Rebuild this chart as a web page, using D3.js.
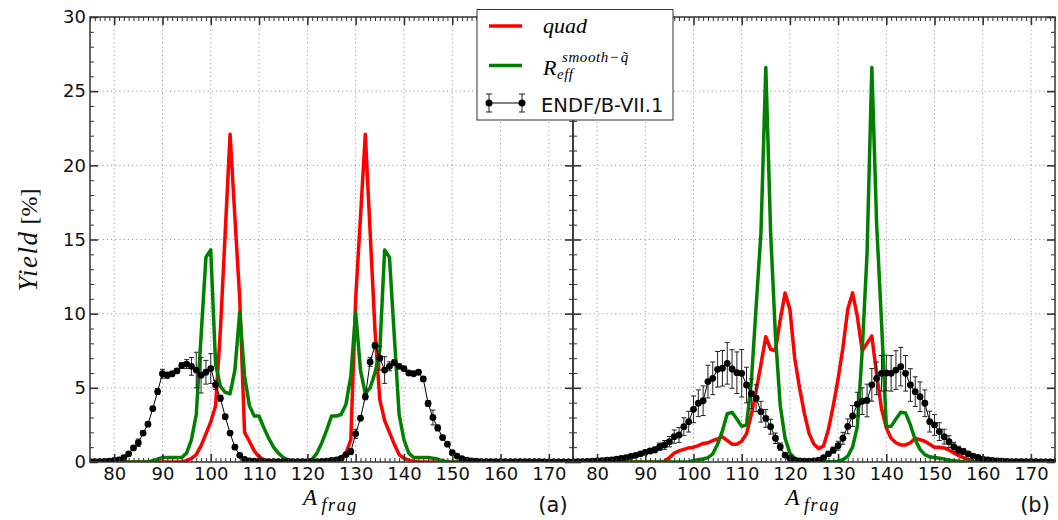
<!DOCTYPE html>
<html><head><meta charset="utf-8">
<script src="https://cdnjs.cloudflare.com/ajax/libs/d3/7.8.5/d3.min.js"></script>
<style>body{margin:0;background:#fff}svg{display:block}</style>
</head><body>
<svg id="c" width="1058" height="520"></svg>
<script>
// ---------------- data ----------------
const massNumbers = [75,76,77,78,79,80,81,82,83,84,85,86,87,88,89,90,91,92,93,94,95,96,97,98,99,
 100,101,102,103,104,105,106,107,108,109,110,111,112,113,114,115,116,117,118,119,120,121,122,123,124,
 125,126,127,128,129,130,131,132,133,134,135,136,137,138,139,140,141,142,143,144,145,146,147,148,149,
 150,151,152,153,154,155,156,157,158,159,160,161,162,163,164,165,166,167,168,169,170,171,172,173,174,175];

// panel (a)
const quadA = [0,0,0,0,0,0,0,0,0,0,0,0,0,0,0,0,0,0,0,
 0.02,0.08,0.25,0.5,1.1,1.9,2.7,3.8,8.9,15.5,22.1,16.5,11.0,2.0,1.4,0.75,0.35,0.15,0.07,0.03,
 0.02,0.02,0.02,0.02,0.02,0.02,0.02,0.02,0.02,0.03,0.06,0.1,0.2,0.3,0.6,1.5,11.0,16.5,22.1,15.5,
 8.9,4.2,2.8,2.0,1.2,0.5,0.25,0.12,0.05,0.02,
 0,0,0,0,0,0,0,0,0,0,0,0,0,0,0,0,0,0,0,0,0,0,0,0,0,0,0,0,0,0,0,0];
const effA = [0,0,0,0,0,0,0,0,0,0,0,0,
 0.02,0.08,0.2,0.3,0.3,0.3,0.3,0.3,0.6,1.5,3.2,8.5,13.8,14.3,6.6,5.1,4.7,4.6,6.2,10.1,5.8,3.8,3.1,
 3.1,2.3,1.6,1.0,0.6,0.3,0.15,0.08,0.05,0.05,0.08,0.2,0.6,1.3,2.15,3.1,3.1,3.2,3.9,5.8,10.1,6.2,4.6,
 5.0,6.0,7.5,14.3,13.8,8.5,3.2,1.5,0.6,0.3,0.3,0.3,0.3,0.25,0.2,0.08,0.02,
 0,0,0,0,0,0,0,0,0,0,0,0,0,0,0,0,0,0,0,0,0,0,0,0,0,0];
const endfA = [0.02,0.02,0.03,0.04,0.06,0.1,0.15,0.3,0.55,0.95,1.3,1.95,2.55,3.6,4.75,5.95,5.85,5.95,6.15,6.5,
 6.6,6.45,6.2,5.85,6.05,6.3,5.2,4.3,3.05,1.95,1.0,0.45,0.18,0.08,0.05,0.04,0.03,0.03,0.03,0.03,
 0.03,0.03,0.03,0.03,0.03,0.03,0.03,0.03,0.04,0.06,0.1,0.15,0.25,0.5,0.7,1.9,2.95,4.4,6.75,7.85,
 7.0,6.2,6.45,6.7,6.45,6.3,6.0,5.95,6.05,5.6,3.95,3.0,2.3,1.65,1.2,0.63,0.4,0.22,0.12,0.07,
 0.05,0.03,0.03,0.03,0.03,0.02,0.02,0.02,0.02,0.02,0.02,0.02,0.02,0.02,0.01,0.01,0.01,0.01,0.01,0.01,0.01];
const errA = [0.01,0.01,0.01,0.01,0.01,0.02,0.02,0.05,0.08,0.12,0.25,0.15,0.15,0.15,0.2,0.3,0.2,0.15,0.15,0.2,
 0.3,0.6,1.2,1.2,0.8,1.0,0.3,0.2,0.15,0.1,0.05,0.03,0.02,0.01,0.01,0.01,0.01,0.01,0.01,0.01,
 0.01,0.01,0.01,0.01,0.01,0.01,0.01,0.01,0.01,0.01,0.01,0.01,0.02,0.05,0.2,0.3,0.15,0.2,0.3,0.2,
 0.8,0.9,0.3,0.2,0.15,0.15,0.15,0.1,0.1,0.15,0.2,0.5,0.2,0.15,0.15,0.1,0.05,0.03,0.01,0.01,
 0.01,0.01,0.01,0.01,0.01,0.01,0.01,0.01,0.01,0.01,0.01,0.01,0.01,0.01,0.01,0.01,0.01,0.01,0.01,0.01,0.01];

// panel (b)
const quadB = [0,0,0,0,0,0,0,0,0,0,0,0,0,0,0,0,0,0,0,
 0.05,0.3,0.6,0.75,0.85,0.95,1.0,1.1,1.25,1.3,1.45,1.55,1.7,1.45,1.2,1.2,1.4,1.9,3.2,4.8,6.6,
 8.45,7.6,7.5,9.6,11.4,10.3,7.0,5.0,3.3,1.9,1.2,0.9,1.1,2.2,3.8,5.6,7.7,10.3,11.4,9.8,
 7.5,8.0,8.5,5.9,3.6,2.3,1.6,1.3,1.15,1.15,1.3,1.6,1.5,1.4,1.2,1.0,1.0,0.95,0.8,0.6,
 0.45,0.3,0.15,0.05,
 0,0,0,0,0,0,0,0,0,0,0,0,0,0,0,0,0];
const effB = [0,0,0,0,0,0,0,0,0,0,0,0,0,0,0,0,0,0,0,0,0,0,0,0,0,
 0.1,0.15,0.2,0.3,0.55,1.2,2.1,3.25,3.35,2.9,2.4,2.5,5.4,10.5,15.5,26.6,15.5,8.5,3.8,1.6,
 0.6,0.25,0.1,0.05,0.02,0.02,0.02,0.02,0.02,0.03,0.05,0.15,0.4,1.0,2.4,7.5,14.0,26.6,16.0,9.5,
 2.4,2.4,2.9,3.35,3.3,2.5,1.5,0.85,0.5,0.35,0.3,0.25,0.2,0.12,0.08,0.05,
 0,0,0,0,0,0,0,0,0,0,0,0,0,0,0,0,0,0,0,0];
const endfB = [0.02,0.02,0.03,0.04,0.05,0.07,0.09,0.12,0.15,0.2,0.25,0.3,0.37,0.45,0.55,0.65,0.74,0.82,1.03,1.15,
 1.37,1.71,1.82,2.38,2.72,3.55,3.96,4.13,5.42,5.64,6.25,6.32,6.65,6.27,6.02,5.98,5.19,4.6,4.3,3.39,
 2.94,2.38,1.6,1.03,0.47,0.25,0.12,0.08,0.06,0.06,0.08,0.12,0.3,0.55,0.8,1.1,1.6,2.4,3.1,3.9,
 4.1,4.15,5.2,5.64,5.98,6.0,5.98,6.2,6.43,5.98,5.19,4.74,4.4,3.96,2.72,2.5,2.05,1.71,1.37,1.03,
 0.81,0.7,0.54,0.4,0.31,0.2,0.15,0.1,0.07,0.05,0.04,0.03,0.03,0.02,0.02,0.02,0.02,0.01,0.01,0.01,0.01];
const errB = [0.01,0.01,0.01,0.01,0.01,0.01,0.02,0.02,0.02,0.03,0.03,0.05,0.06,0.08,0.1,0.15,0.15,0.2,0.25,0.3,
 0.35,0.45,0.5,0.6,0.7,0.9,0.9,1.0,1.1,1.1,1.2,1.2,1.4,1.3,1.4,1.6,1.2,1.0,0.9,0.7,
 0.6,0.5,0.35,0.25,0.15,0.08,0.04,0.02,0.02,0.02,0.02,0.02,0.08,0.15,0.2,0.3,0.4,0.5,0.7,0.8,
 0.9,1.1,1.1,1.1,1.2,1.2,1.2,1.3,1.3,1.2,1.1,1.0,1.0,0.9,0.7,0.7,0.6,0.5,0.4,0.3,
 0.25,0.2,0.15,0.1,0.08,0.06,0.05,0.04,0.03,0.03,0.02,0.02,0.02,0.01,0.01,0.01,0.01,0.01,0.01,0.01,0.01];

const xTicks = [80,90,100,110,120,130,140,150,160,170];
const xMinor = [75,76,77,78,79,81,82,83,84,85,86,87,88,89,91,92,93,94,95,96,97,98,99,101,102,103,104,105,106,107,108,109,
 111,112,113,114,115,116,117,118,119,121,122,123,124,125,126,127,128,129,131,132,133,134,135,136,137,138,139,
 141,142,143,144,145,146,147,148,149,151,152,153,154,155,156,157,158,159,161,162,163,164,165,166,167,168,169,
 171,172,173,174,175];
const yTicks = [0,5,10,15,20,25,30];
const yMinor = [1,2,3,4,6,7,8,9,11,12,13,14,16,17,18,19,21,22,23,24,26,27,28,29];
const xDomain = [75,175];
const yDomain = [0,30];
const panelTags = ['(a)','(b)'];
const legendLabels = ['quad','R','ENDF/B-VII.1'];

// ---------------- drawing ----------------
const svg = d3.select('#c');
const TOP = 17, BOT = 462;
const RED = '#ff0000', GREEN = '#008000';
const y = d3.scaleLinear().domain(yDomain).range([BOT, TOP]);

const panels = [
  {x0: 90, x1: 573, red: quadA, green: effA, endf: endfA, err: errA, tag: panelTags[0], ylab: true},
  {x0: 573, x1: 1055, red: quadB, green: effB, endf: endfB, err: errB, tag: panelTags[1], ylab: false}
];

const defs = svg.append('defs');

panels.forEach((p, pi) => {
  const x = d3.scaleLinear().domain(xDomain).range([p.x0, p.x1]);
  const clipId = 'clip' + pi;
  defs.append('clipPath').attr('id', clipId)
    .append('rect').attr('x', p.x0).attr('y', TOP).attr('width', p.x1 - p.x0).attr('height', BOT - TOP);

  const g = svg.append('g');
  // grid
  const grid = g.append('g').attr('stroke', '#9a9a9a').attr('stroke-width', 1).attr('stroke-dasharray', '1.2,3');
  grid.selectAll('.gx').data(xTicks).join('line')
    .attr('x1', d => x(d)).attr('x2', d => x(d)).attr('y1', TOP).attr('y2', BOT);
  grid.selectAll('.gy').data(yTicks.filter(v => v > 0 && v < 30)).join('line')
    .attr('x1', p.x0).attr('x2', p.x1).attr('y1', d => y(d)).attr('y2', d => y(d));

  const plot = g.append('g').attr('clip-path', `url(#${clipId})`);
  const line = d3.line().x((d, i) => x(massNumbers[i])).y(d => y(d));

  plot.append('path').datum(p.red).attr('d', line).attr('fill', 'none')
    .attr('stroke', RED).attr('stroke-width', 3.5).attr('stroke-linejoin', 'round');
  plot.append('path').datum(p.green).attr('d', line).attr('fill', 'none')
    .attr('stroke', GREEN).attr('stroke-width', 3.5).attr('stroke-linejoin', 'round');

  // ENDF data
  plot.append('path').datum(p.endf).attr('d', line).attr('fill', 'none')
    .attr('stroke', '#000').attr('stroke-width', 1);
  const eb = plot.append('g').attr('stroke', '#222').attr('stroke-width', 1);
  p.endf.forEach((v, i) => {
    const cx = x(massNumbers[i]);
    const e = p.err[i];
    const ya = y(v + e), yb = y(v - e);
    eb.append('line').attr('x1', cx).attr('x2', cx).attr('y1', ya).attr('y2', yb);
    eb.append('line').attr('x1', cx - 2.5).attr('x2', cx + 2.5).attr('y1', ya).attr('y2', ya);
    eb.append('line').attr('x1', cx - 2.5).attr('x2', cx + 2.5).attr('y1', yb).attr('y2', yb);
  });
  plot.append('g').selectAll('circle').data(p.endf).join('circle')
    .attr('cx', (d, i) => x(massNumbers[i])).attr('cy', d => y(d)).attr('r', 3.4).attr('fill', '#000');

  // axes (inward ticks)
  const styleAx = (sel, w) => {
    sel.select('.domain').remove();
    sel.selectAll('.tick line').attr('stroke', '#333').attr('stroke-width', w);
    sel.attr('font-family', 'DejaVu Sans').attr('font-size', 18);
    sel.selectAll('text').attr('fill', '#111');
  };
  const bottom = g.append('g').attr('transform', `translate(0,${BOT})`)
    .call(d3.axisBottom(x).tickValues(xTicks).tickSize(-8).tickPadding(5).tickFormat(d3.format('d')));
  styleAx(bottom, 1.6);
  const bottomMin = g.append('g').attr('transform', `translate(0,${BOT})`)
    .call(d3.axisBottom(x).tickValues(xMinor).tickSize(-4).tickFormat(''));
  styleAx(bottomMin, 1);
  const top = g.append('g').attr('transform', `translate(0,${TOP})`)
    .call(d3.axisTop(x).tickValues(xTicks).tickSize(-8).tickFormat(''));
  styleAx(top, 1.6);
  const topMin = g.append('g').attr('transform', `translate(0,${TOP})`)
    .call(d3.axisTop(x).tickValues(xMinor).tickSize(-4).tickFormat(''));
  styleAx(topMin, 1);
  const left = g.append('g').attr('transform', `translate(${p.x0},0)`)
    .call(d3.axisLeft(y).tickValues(yTicks).tickSize(-8).tickPadding(4)
      .tickFormat(p.ylab ? d3.format('d') : ''));
  styleAx(left, 1.6);
  const leftMin = g.append('g').attr('transform', `translate(${p.x0},0)`)
    .call(d3.axisLeft(y).tickValues(yMinor).tickSize(-4).tickFormat(''));
  styleAx(leftMin, 1);
  const right = g.append('g').attr('transform', `translate(${p.x1},0)`)
    .call(d3.axisRight(y).tickValues(yTicks).tickSize(-8).tickFormat(''));
  styleAx(right, 1.6);
  const rightMin = g.append('g').attr('transform', `translate(${p.x1},0)`)
    .call(d3.axisRight(y).tickValues(yMinor).tickSize(-4).tickFormat(''));
  styleAx(rightMin, 1);

  // frame
  g.append('rect').attr('x', p.x0).attr('y', TOP).attr('width', p.x1 - p.x0).attr('height', BOT - TOP)
    .attr('fill', 'none').attr('stroke', '#333').attr('stroke-width', 1.5);

  // x label A_frag
  const cx = (p.x0 + p.x1) / 2;
  g.append('text').attr('x', cx - 28.5).attr('y', 505)
    .attr('font-family', 'Liberation Serif').attr('font-style', 'italic').attr('font-size', 23).text('A');
  g.append('text').attr('x', cx - 10).attr('y', 511)
    .attr('font-family', 'Liberation Serif').attr('font-style', 'italic').attr('font-size', 18)
    .attr('letter-spacing', 1.6).text('frag');

  // panel tag
  g.append('text').attr('x', p.x1 - 20).attr('y', 512).attr('text-anchor', 'middle')
    .attr('font-family', 'DejaVu Sans').attr('font-size', 21).attr('fill', '#111').text(p.tag);
});

// y label
const yl = svg.append('text').attr('transform', 'translate(37,240) rotate(-90)')
  .attr('text-anchor', 'middle').attr('font-family', 'Liberation Serif').attr('fill', '#111');
yl.append('tspan').attr('font-style', 'italic').attr('font-size', 27).attr('letter-spacing', 1.5).text('Yield');
yl.append('tspan').attr('font-size', 24).text('\u00a0[%]');

// legend
const lg = svg.append('g');
lg.append('rect').attr('x', 477).attr('y', 9.5).attr('width', 196).attr('height', 110.5)
  .attr('fill', '#fff').attr('stroke', '#333').attr('stroke-width', 1);
lg.append('line').attr('x1', 489).attr('x2', 522).attr('y1', 26).attr('y2', 26)
  .attr('stroke', RED).attr('stroke-width', 3.5);
lg.append('text').attr('x', 543).attr('y', 33).attr('font-family', 'Liberation Serif')
  .attr('font-style', 'italic').attr('font-size', 22).text(legendLabels[0]);
lg.append('line').attr('x1', 489).attr('x2', 522).attr('y1', 65.5).attr('y2', 65.5)
  .attr('stroke', GREEN).attr('stroke-width', 3.5);
lg.append('text').attr('x', 543).attr('y', 75).attr('font-family', 'Liberation Serif')
  .attr('font-style', 'italic').attr('font-size', 22).text(legendLabels[1]);
lg.append('text').attr('x', 557).attr('y', 79).attr('font-family', 'Liberation Serif')
  .attr('font-style', 'italic').attr('font-size', 15).attr('letter-spacing', 0.5).text('eff');
const sup = lg.append('text').attr('x', 562).attr('y', 62).attr('font-family', 'Liberation Serif')
  .attr('font-style', 'italic').attr('font-size', 15).attr('letter-spacing', 0.6).text('smooth\u2212');
const supW = sup.node().getComputedTextLength();
const qx = 562 + supW + 1;
lg.append('text').attr('x', qx).attr('y', 62).attr('font-family', 'Liberation Serif')
  .attr('font-style', 'italic').attr('font-size', 15).text('q');
lg.append('text').attr('x', qx + 4.5).attr('y', 62).attr('text-anchor', 'middle').attr('font-family', 'Liberation Serif')
  .attr('font-size', 15).text('\u02dc');
// ENDF sample
const ly = 103;
lg.append('line').attr('x1', 489).attr('x2', 522).attr('y1', ly).attr('y2', ly).attr('stroke', '#000').attr('stroke-width', 1);
[489, 522].forEach(px => {
  lg.append('line').attr('x1', px).attr('x2', px).attr('y1', ly - 9).attr('y2', ly + 9).attr('stroke', '#222');
  lg.append('line').attr('x1', px - 3).attr('x2', px + 3).attr('y1', ly - 9).attr('y2', ly - 9).attr('stroke', '#222');
  lg.append('line').attr('x1', px - 3).attr('x2', px + 3).attr('y1', ly + 9).attr('y2', ly + 9).attr('stroke', '#222');
  lg.append('circle').attr('cx', px).attr('cy', ly).attr('r', 3.5).attr('fill', '#000');
});
lg.append('text').attr('x', 541).attr('y', 111.5).attr('font-family', 'DejaVu Sans').attr('font-size', 19.5)
  .attr('fill', '#111').text(legendLabels[2]);
</script>
</body></html>
